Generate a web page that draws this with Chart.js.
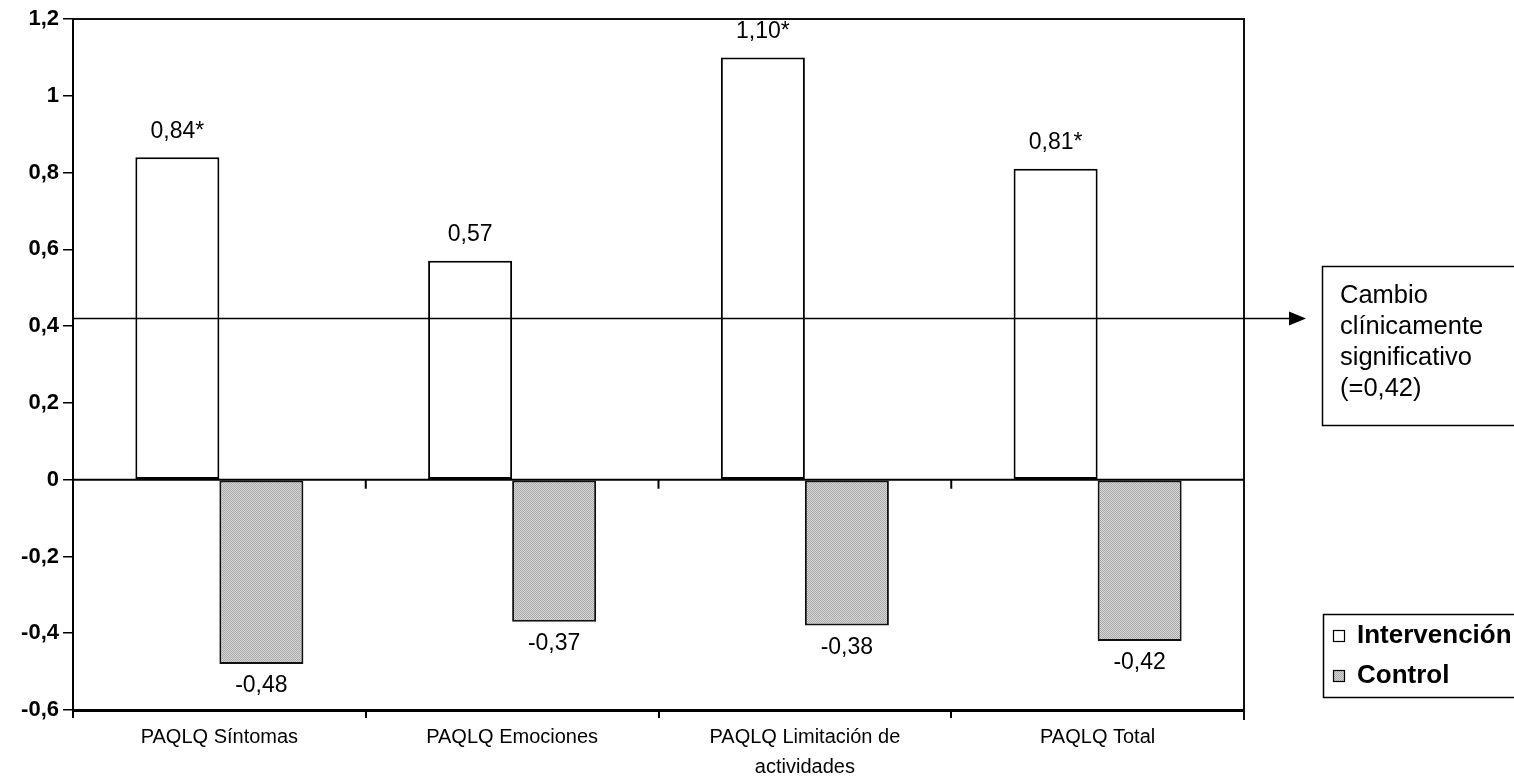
<!DOCTYPE html>
<html>
<head>
<meta charset="utf-8">
<script src="https://cdn.jsdelivr.net/npm/chart.js@4/dist/chart.umd.min.js"></script>
<style>
  html, body { margin: 0; padding: 0; background: #ffffff; }
  canvas { display: block; }
</style>
</head>
<body>
<canvas id="c" width="1514" height="782"></canvas>
<script>
// Cambio medio en las escalas PAQLQ por grupo
const categories = [
  'PAQLQ Síntomas',
  'PAQLQ Emociones',
  ['PAQLQ Limitación de', 'actividades'],
  'PAQLQ Total'
];
const intervencion = [0.84, 0.57, 1.10, 0.81];
const control = [-0.48, -0.37, -0.38, -0.42];
const intervencionSignificativo = [true, false, true, true];
const controlSignificativo = [false, false, false, false];
const umbralClinico = 0.42;
const umbralTexto = ['Cambio', 'clínicamente', 'significativo', '(=0,42)'];
const yTicks = { min: -0.6, max: 1.2, step: 0.2 };

const FONT = '"Liberation Sans", Arial, sans-serif';

function coma(v, dec) {
  return v.toFixed(dec).replace('.', ',');
}

// Trama gris fina para las barras del grupo control
function makePattern() {
  const p = document.createElement('canvas');
  p.width = 4; p.height = 4;
  const g = p.getContext('2d');
  for (let y = 0; y < 4; y++) {
    for (let x = 0; x < 4; x++) {
      g.fillStyle = ((x + y) % 2 === 0) ? '#a8a8a8' : '#d8d8d8';
      g.fillRect(x, y, 1, 1);
    }
  }
  return document.getElementById('c').getContext('2d').createPattern(p, 'repeat');
}
const controlFill = makePattern();

const decorations = {
  id: 'decorations',
  afterDatasetsDraw(chart) {
    const { ctx, chartArea: a, scales: { x, y } } = chart;
    ctx.save();

    // Marco superior y derecho del área de trazado
    ctx.strokeStyle = '#111';
    ctx.lineWidth = 2;
    ctx.beginPath();
    ctx.moveTo(a.left, a.top);
    ctx.lineTo(a.right, a.top);
    ctx.lineTo(a.right, a.bottom + 10);
    ctx.stroke();

    // Línea del cero con marcas entre categorías
    const y0 = y.getPixelForValue(0);
    ctx.strokeStyle = '#000';
    ctx.lineWidth = 2;
    ctx.beginPath();
    ctx.moveTo(a.left, y0);
    ctx.lineTo(a.right, y0);
    ctx.stroke();
    ctx.beginPath();
    for (let i = 1; i < categories.length; i++) {
      const bx = (x.getPixelForValue(i - 1) + x.getPixelForValue(i)) / 2;
      ctx.moveTo(bx, y0);
      ctx.lineTo(bx, y0 + 9);
    }
    ctx.stroke();

    // Etiquetas de valor
    ctx.fillStyle = '#000';
    ctx.font = '23px ' + FONT;
    ctx.textAlign = 'center';
    ctx.textBaseline = 'middle';
    chart.data.datasets.forEach((ds, di) => {
      const meta = chart.getDatasetMeta(di);
      const sig = di === 0 ? intervencionSignificativo : controlSignificativo;
      meta.data.forEach((bar, i) => {
        const v = ds.data[i];
        const txt = coma(v, 2) + (sig[i] ? '*' : '');
        const ty = v >= 0 ? bar.y - 26 : bar.y + 22;
        ctx.fillText(txt, bar.x, ty);
      });
    });

    // Línea de cambio clínicamente significativo con flecha
    const yc = y.getPixelForValue(umbralClinico);
    ctx.strokeStyle = '#000';
    ctx.lineWidth = 1.5;
    ctx.beginPath();
    ctx.moveTo(a.left, yc);
    ctx.lineTo(1292, yc);
    ctx.stroke();
    ctx.beginPath();
    ctx.moveTo(1306, yc);
    ctx.lineTo(1289, yc - 7);
    ctx.lineTo(1289, yc + 7);
    ctx.closePath();
    ctx.fill();

    // Cuadro de texto del umbral
    ctx.lineWidth = 1.5;
    ctx.strokeStyle = '#000';
    ctx.strokeRect(1322.5, 266.5, 220, 159);
    ctx.font = '25.5px ' + FONT;
    ctx.textAlign = 'left';
    umbralTexto.forEach((t, i) => ctx.fillText(t, 1340, 296 + i * 31));

    // Leyenda
    ctx.strokeRect(1323.5, 614.5, 220, 83);
    ctx.font = 'bold 26px ' + FONT;
    const items = [
      { label: 'Intervención', fill: '#ffffff' },
      { label: 'Control', fill: controlFill }
    ];
    items.forEach((it, i) => {
      const cy = 636 + i * 40;
      ctx.fillStyle = it.fill;
      ctx.fillRect(1333, cy - 6, 12, 12);
      ctx.lineWidth = 1.2;
      ctx.strokeStyle = '#000';
      ctx.strokeRect(1333.5, cy - 5.5, 11, 11);
      ctx.fillStyle = '#000';
      ctx.fillText(it.label, 1357, cy);
    });

    ctx.restore();
  }
};

new Chart(document.getElementById('c'), {
  type: 'bar',
  data: {
    labels: categories,
    datasets: [
      {
        label: 'Intervención',
        data: intervencion,
        backgroundColor: '#ffffff',
        borderColor: '#000000',
        borderWidth: 2,
        borderSkipped: false,
        categoryPercentage: 0.574,
        barPercentage: 1.0
      },
      {
        label: 'Control',
        data: control,
        backgroundColor: controlFill,
        borderColor: '#111111',
        borderWidth: 2,
        borderSkipped: false,
        categoryPercentage: 0.574,
        barPercentage: 1.0
      }
    ]
  },
  options: {
    responsive: false,
    animation: false,
    devicePixelRatio: 1,
    layout: { padding: { top: 19, right: 270, left: 0, bottom: 0 } },
    plugins: {
      legend: { display: false },
      tooltip: { enabled: false }
    },
    scales: {
      x: {
        type: 'category',
        offset: true,
        afterFit(scale) { scale.height = 72; },
        grid: {
          offset: true,
          drawOnChartArea: false,
          drawTicks: true,
          tickLength: 8,
          color: '#000',
          lineWidth: 2
        },
        border: { color: '#000', width: 3 },
        ticks: {
          color: '#000',
          font: { family: FONT, size: 20, lineHeight: 1.5 },
          padding: 4,
          maxRotation: 0,
          autoSkip: false
        }
      },
      y: {
        min: yTicks.min,
        max: yTicks.max,
        afterFit(scale) { scale.width = 73; },
        grid: {
          drawOnChartArea: false,
          drawTicks: true,
          tickLength: 10,
          color: '#000',
          lineWidth: 1.5
        },
        border: { color: '#000', width: 2 },
        ticks: {
          stepSize: yTicks.step,
          color: '#000',
          padding: 4,
          font: { family: FONT, size: 22, weight: 'bold' },
          callback: (v) => String(Math.round(v * 10) / 10).replace('.', ',')
        }
      }
    }
  },
  plugins: [decorations]
});
</script>
</body>
</html>
